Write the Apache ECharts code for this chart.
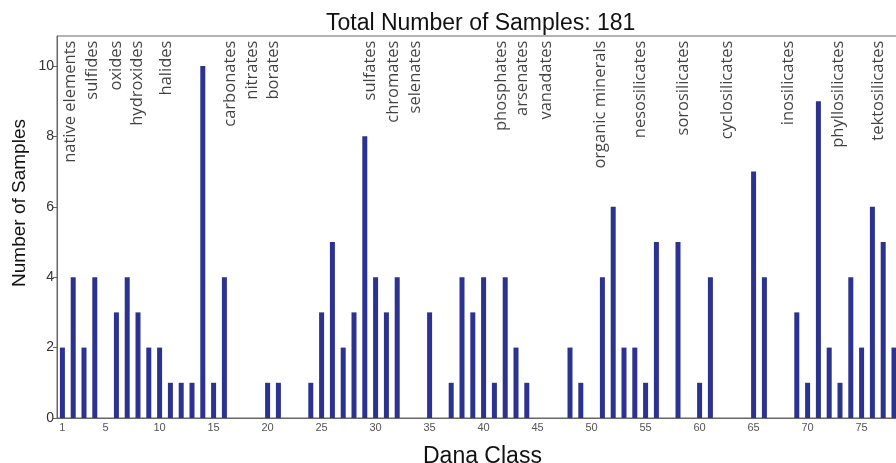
<!DOCTYPE html>
<html>
<head>
<meta charset="utf-8">
<script src="https://cdn.jsdelivr.net/npm/echarts@6/dist/echarts.min.js"></script>
<style>
  html, body { margin: 0; padding: 0; background: #fff; }
  #chart { width: 896px; height: 463px; }
</style>
</head>
<body>
<div id="chart"></div>
<script>
// Dana classes 1..78 (the plot's right edge is cut off by the crop)
const danaClasses = Array.from({ length: 78 }, (_, i) => String(i + 1));

// samples per Dana class
const sampleCounts = [
  2, 4, 2, 4, 0, 3, 4, 3, 2, 2,
  1, 1, 1, 10, 1, 4, 0, 0, 0, 1,
  1, 0, 0, 1, 3, 5, 2, 3, 8, 4,
  3, 4, 0, 0, 3, 0, 1, 4, 3, 4,
  1, 4, 2, 1, 0, 0, 0, 2, 1, 0,
  4, 6, 2, 2, 1, 5, 0, 5, 0, 1,
  4, 0, 0, 0, 7, 4, 0, 0, 3, 1,
  9, 2, 1, 4, 2, 6, 5, 2
];

// mineral group names and where they sit along the class axis
const groupNames = [
  'native elements', 'sulfides', 'oxides', 'hydroxides', 'halides',
  'carbonates', 'nitrates', 'borates', 'sulfates', 'chromates',
  'selenates', 'phosphates', 'arsenates', 'vanadates', 'organic minerals',
  'nesosilicates', 'sorosilicates', 'cyclosilicates', 'inosilicates',
  'phyllosilicates', 'tektosilicates'
];
const groupPositions = [
  1.7, 3.75, 5.95, 7.9, 10.6,
  16.5, 18.6, 20.5, 29.5, 31.6,
  33.7, 41.6, 43.6, 45.8, 50.8,
  54.5, 58.5, 62.6, 68.2,
  72.8, 76.5
];
const groupLabelY = 10.72;

const yTicks = [0, 2, 4, 6, 8, 10];

const chart = echarts.init(document.getElementById('chart'));

const option = {
  animation: false,
  title: [
    {
      text: 'Total Number of Samples: 181',
      left: 321,
      top: 7,
      textStyle: { fontFamily: 'Liberation Sans', fontSize: 23, fontWeight: 'normal', color: '#111' }
    },
    {
      text: 'Dana Class',
      left: 418,
      top: 440,
      textStyle: { fontFamily: 'Liberation Sans', fontSize: 23, fontWeight: 'normal', color: '#111' }
    }
  ],
  graphic: [
    {
      type: 'text',
      x: 20,
      y: 203,
      rotation: Math.PI / 2,
      style: {
        text: 'Number of Samples',
        font: '19px "Liberation Sans"',
        fill: '#111',
        align: 'center',
        verticalAlign: 'middle'
      }
    }
  ],
  grid: {
    left: 57,
    top: 36,
    width: 842.4,
    height: 382,
    outerBoundsMode: 'none',
    show: true,
    borderColor: '#666',
    borderWidth: 1,
    backgroundColor: 'transparent'
  },
  xAxis: [
    {
      type: 'category',
      data: danaClasses,
      boundaryGap: true,
      axisLine: { lineStyle: { color: '#666', width: 1 } },
      axisTick: {
        alignWithLabel: true,
        interval: 0,
        length: 4,
        lineStyle: { color: '#666' }
      },
      axisLabel: {
        interval: (idx, val) => val === '1' || Number(val) % 5 === 0,
        fontFamily: 'Liberation Sans',
        fontSize: 11,
        color: '#555',
        margin: 4
      },
      splitLine: { show: false }
    },
    {
      type: 'value',
      min: 0.5,
      max: 78.5,
      show: false,
      position: 'bottom'
    }
  ],
  yAxis: {
    type: 'value',
    min: 0,
    max: 10.85,
    interval: 2,
    axisLine: { show: true, lineStyle: { color: '#666', width: 1 } },
    axisTick: { show: true, length: 4, customValues: yTicks, lineStyle: { color: '#666' } },
    axisLabel: {
      customValues: yTicks,
      fontFamily: 'Liberation Sans',
      fontSize: 14,
      color: '#333',
      margin: 3
    },
    splitLine: { show: false }
  },
  series: [
    {
      type: 'bar',
      xAxisIndex: 0,
      data: sampleCounts,
      barWidth: 5,
      itemStyle: { color: '#2b3290' }
    },
    {
      type: 'scatter',
      xAxisIndex: 1,
      symbolSize: 0,
      data: groupPositions.map((x, i) => ({ value: [x, groupLabelY], name: groupNames[i] })),
      label: {
        show: true,
        position: 'inside',
        formatter: p => p.name,
        rotate: 90,
        align: 'right',
        verticalAlign: 'middle',
        fontFamily: 'Open Sans',
        fontSize: 16.5,
        color: '#111'
      },
      z: 5
    }
  ]
};

chart.setOption(option);
</script>
</body>
</html>
